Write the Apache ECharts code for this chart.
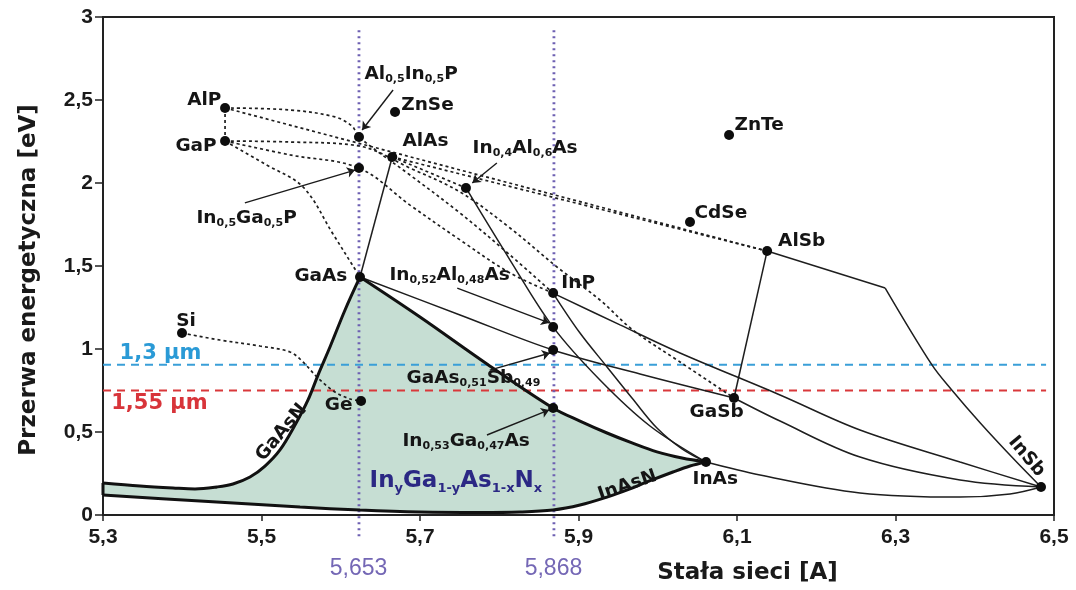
<!DOCTYPE html>
<html><head><meta charset="utf-8">
<script src="https://cdn.jsdelivr.net/npm/echarts@6/dist/echarts.min.js"></script>
<style>html,body{margin:0;padding:0;background:#fff}#c{width:1076px;height:590px}</style>
</head><body><div id="c"></div>
<script>
// ---------- tick labels ----------
const xTickLabels = ['5,3','5,5','5,7','5,9','6,1','6,3','6,5'];
const yTickLabels = ['0','0,5','1','1,5','2','2,5','3'];

// ---------- compounds (name, lattice constant, band gap) ----------
const compounds = [
  ['AlP',5.454,2.452],['GaP',5.454,2.253],['Al0.5In0.5P',5.623,2.277],['In0.5Ga0.5P',5.623,2.09],
  ['ZnSe',5.6685,2.428],['AlAs',5.665,2.157],['In0.4Al0.6As',5.758,1.97],['ZnTe',6.09,2.289],
  ['CdSe',6.0407,1.765],['AlSb',6.138,1.59],['GaAs',5.6243,1.434],['InP',5.868,1.337],
  ['In0.52Al0.48As',5.868,1.133],['GaAs0.51Sb0.49',5.868,0.994],['In0.53Ga0.47As',5.868,0.645],
  ['GaSb',6.0962,0.705],['InAs',6.0609,0.319],['InSb',6.4836,0.169],['Si',5.3997,1.096],['Ge',5.6256,0.687]
];

// ---------- InGaAsN region boundaries ----------
const curveGaAsN = [[5.6243,1.434],[5.6054,1.235],[5.5864,1.012],[5.5713,0.843],[5.5587,0.693],[5.5423,0.542],
  [5.5233,0.392],[5.5044,0.295],[5.4855,0.229],[5.464,0.187],[5.4438,0.169],[5.4161,0.157],[5.3883,0.163],[5.3467,0.175],[5.3,0.193]];
const curveLeftEdge = [[5.3,0.193],[5.3,0.12]];
const curveBottomInAsN = [[5.3,0.12],[5.4224,0.084],[5.5486,0.048],[5.6243,0.03],[5.7,0.018],[5.7757,0.015],[5.826,0.018],
  [5.8678,0.03],[5.9019,0.06],[5.936,0.108],[5.965,0.157],[5.9864,0.199],[6.0192,0.259],[6.0407,0.295],[6.0609,0.319]];
const curveInGaAs = [[5.6243,1.434],[5.7,1.193],[5.7845,0.91],[5.8678,0.645],[5.9019,0.566],[5.936,0.494],
  [5.9675,0.434],[5.999,0.38],[6.0306,0.343],[6.0609,0.319]];

// ---------- thin solid ternary lines ----------
const lineGaAsAlAs = [[5.6243,1.434],[5.665,2.157]];
const lineAlInAs = [[5.758,1.97],[5.8136,1.536],[5.8678,1.133],[5.9271,0.813],[5.9902,0.536],[6.0609,0.319]];
const lineInPInAs = [[5.8678,1.337],[5.9019,1.096],[5.936,0.892],[5.9675,0.705],[5.999,0.524],[6.0306,0.398],[6.0609,0.319]];
const lineInPInSb = [[5.8678,1.337],[5.9524,1.145],[6.0281,0.976],[6.1543,0.723],[6.2552,0.512],[6.3814,0.319],[6.4836,0.169]];
const lineGaAsGaSb = [[5.6243,1.434],[5.7505,1.205],[5.8678,0.994],[5.9776,0.849],[6.0962,0.705]];
const lineGaSbInSb = [[6.0962,0.705],[6.1543,0.566],[6.2552,0.349],[6.3814,0.211],[6.4836,0.169]];
const lineInAsInSb = [[6.0609,0.319],[6.129,0.241],[6.2552,0.133],[6.3814,0.108],[6.4445,0.127],[6.4836,0.169]];
const lineAlSbGaSb = [[6.138,1.59],[6.0962,0.705]];
const lineAlSbKnee = [[6.138,1.59],[6.287,1.367]];
const lineKneeInSb = [[6.287,1.367],[6.346,0.904],[6.371,0.753],[6.407,0.554],[6.448,0.343],[6.4836,0.169]];

// ---------- dotted lines ----------
const dotAlPGaP = [[5.454,2.452],[5.454,2.253]];
const dotAlPAlSb = [[5.454,2.452],[6.138,1.59]];
const dotAlAsAlSb = [[5.665,2.157],[6.138,1.59]];
const dotAlPInP = [[5.454,2.452],[5.536,2.44],[5.5927,2.398],[5.6142,2.343],[5.623,2.277],[5.6874,2.048],[5.7505,1.819],[5.8136,1.566],[5.8678,1.337]];
const dotGaPInP = [[5.454,2.253],[5.536,2.169],[5.623,2.09],[5.6874,1.867],[5.7505,1.657],[5.8136,1.458],[5.8678,1.337]];
const dotGaPGaSb = [[5.454,2.253],[5.536,2.247],[5.623,2.223],[5.6874,2.09],[5.7505,1.946],[5.8136,1.729],[5.8729,1.494],[5.9271,1.295],[5.9687,1.114],[6.0281,0.922],[6.0962,0.705]];
const dotGaPGaAs = [[5.454,2.253],[5.5044,2.114],[5.5524,1.976],[5.5902,1.693],[5.6155,1.5],[5.6243,1.434]];
const dotAlAsInAlAs = [[5.665,2.157],[5.758,1.97]];
const dotSiGe = [[5.3997,1.096],[5.4476,1.054],[5.4981,1.018],[5.5359,0.982],[5.5523,0.922],[5.5713,0.825],[5.5927,0.741],[5.6117,0.699],[5.6256,0.687]];

// ---------- reference levels ----------
const level13 = 0.905, level155 = 0.75;
const latticeGaAs = 5.623, latticeInP = 5.869;

// ---------- annotation arrows [from, to] ----------
const arrows = [
  [[5.479,1.88],[5.618,2.078]],
  [[5.666,2.56],[5.627,2.319]],
  [[5.797,2.12],[5.766,2.0]],
  [[5.747,1.367],[5.863,1.157]],
  [[5.788,0.873],[5.864,0.976]],
  [[5.7845,0.482],[5.863,0.633]]
];

// ---------- text labels [text, x, y, align, style, rotate] ----------
const labels = [
  ['AlP',5.450,2.494,'right','n',0],['GaP',5.444,2.217,'right','n',0],
  ['Al<0,5>In<0,5>P',5.6306,2.651,'left','n',0],['ZnSe',5.677,2.464,'left','n',0],
  ['AlAs',5.6785,2.247,'left','n',0],['In<0,4>Al<0,6>As',5.767,2.205,'left','n',0],
  ['ZnTe',6.0975,2.343,'left','n',0],['CdSe',6.047,1.813,'left','n',0],['AlSb',6.1525,1.645,'left','n',0],
  ['In<0,5>Ga<0,5>P',5.4186,1.783,'left','n',0],['GaAs',5.609,1.434,'right','n',0],
  ['In<0,52>Al<0,48>As',5.662,1.44,'left','n',0],['InP',5.879,1.392,'left','n',0],
  ['Si',5.393,1.163,'left','n',0],['Ge',5.6155,0.657,'right','n',0],
  ['GaAsN',5.526,0.494,'center','n',50],['GaAs<0,51>Sb<0,49>',5.6836,0.819,'left','n',0],
  ['In<0,53>Ga<0,47>As',5.6785,0.44,'left','n',0],['InAsN',5.9625,0.175,'center','n',19],
  ['InAs',6.0445,0.211,'left','n',0],['GaSb',6.0407,0.614,'left','n',0],['InSb',6.466,0.349,'center','n',-50],
  ['1,3 µm',5.3215,0.97,'left','blue',0],['1,55 µm',5.311,0.669,'left','red',0],
  ['In<y>Ga<1-y>As<1-x>N<x>',5.637,0.199,'left','big',0],
  ['5,653',5.623,-0.325,'center','pur',0],['5,868',5.869,-0.325,'center','pur',0]
];

// ================= build chart =================
const FONT = 'DejaVu Sans';
const richStyles = {
  nb:{fontFamily:FONT,fontWeight:'bold',fontSize:18.5,lineHeight:21,color:'#151515'},
  ns:{fontFamily:FONT,fontWeight:'bold',fontSize:11,lineHeight:9,verticalAlign:'bottom',color:'#151515'},
  bigb:{fontFamily:FONT,fontWeight:'bold',fontSize:23,lineHeight:28,color:'#2b2884'},
  bigs:{fontFamily:FONT,fontWeight:'bold',fontSize:13,lineHeight:12,verticalAlign:'bottom',color:'#2b2884'},
  blueb:{fontFamily:FONT,fontWeight:'bold',fontSize:21,lineHeight:24,color:'#2a9ad6'},
  redb:{fontFamily:FONT,fontWeight:'bold',fontSize:21,lineHeight:24,color:'#d8343a'},
  purb:{fontFamily:'Liberation Sans',fontSize:23,lineHeight:26,color:'#7467b5'}
};
function toRich(str, st){
  return str.split(/(<[^>]*>)/).filter(s=>s.length).map(t=> t[0]==='<' ? '{'+st+'s|'+t.slice(1,-1)+'}' : '{'+st+'b|'+t+'}').join('');
}
function lineSeries(data, style, smooth, z){
  return {type:'line', data:data, showSymbol:false, symbol:'none', smooth:smooth, lineStyle:style, z:z, silent:true, animation:false};
}
const thick = {color:'#111', width:3};
const thin = {color:'#1e1e1e', width:1.5};
const dotted = {color:'#1e1e1e', width:1.7, type:[3,3]};

const regionPts = [].concat(curveGaAsN, curveLeftEdge.slice(1), curveBottomInAsN.slice(1), curveInGaAs.slice().reverse().slice(1));

const series = [];
series.push({type:'custom', silent:true, z:1, data:[[5.3,0]],
  renderItem:function(params, api){
    return {type:'polygon', shape:{points:regionPts.map(p=>api.coord(p))}, style:{fill:'#c6ded3'}};
  }});
series.push(lineSeries([[5.3,level13],[6.49,level13]], {color:'#3a9fd8',width:2,type:[8,6]}, false, 2));
series.push(lineSeries([[5.3,level155],[6.49,level155]], {color:'#d9383b',width:2,type:[8,6]}, false, 2));
[latticeGaAs, latticeInP].forEach(v=>{
  const s = lineSeries([[v,2.92],[v,-0.15]], {color:'#6e60b2',width:2.8,type:[2,4]}, false, 3);
  s.clip = false; series.push(s);
});
[curveGaAsN, curveLeftEdge, curveBottomInAsN, curveInGaAs].forEach(d=>series.push(lineSeries(d, thick, d.length>2?0.35:false, 5)));
[lineGaAsAlAs, lineAlInAs, lineInPInAs, lineInPInSb, lineGaAsGaSb, lineGaSbInSb, lineInAsInSb, lineAlSbGaSb, lineAlSbKnee, lineKneeInSb]
  .forEach(d=>series.push(lineSeries(d, thin, d.length>2?0.35:false, 4)));
[dotAlPGaP, dotAlPAlSb, dotAlAsAlSb, dotAlPInP, dotGaPInP, dotGaPGaSb, dotGaPGaAs, dotAlAsInAlAs, dotSiGe]
  .forEach(d=>series.push(lineSeries(d, dotted, d.length>2?0.35:false, 4)));
series.push({type:'lines', coordinateSystem:'cartesian2d', silent:true, z:6, symbol:['none','arrow'], symbolSize:[0,8],
  lineStyle:{color:'#1a1a1a', width:1.4, opacity:1}, data:arrows.map(a=>({coords:a}))});
series.push({type:'scatter', silent:true, z:7, symbolSize:10, itemStyle:{color:'#0d0d0d', opacity:1}, data:compounds.map(c=>[c[1],c[2]])});
series.push({type:'scatter', silent:true, z:8, symbolSize:1, clip:false, itemStyle:{color:'rgba(0,0,0,0)', opacity:1},
  data:labels.map(l=>({value:[l[1],l[2]], label:{show:true, opacity:1, position:[0,0], align:l[3], verticalAlign:'middle', rotate:l[5],
    formatter:toRich(l[0], l[4]), rich:richStyles}}))});

const chart = echarts.init(document.getElementById('c'), null, {renderer:'canvas'});
chart.setOption({
  animation:false,
  grid:{left:103, right:22, top:17, bottom:75, show:true, borderColor:'#222', borderWidth:2, backgroundColor:'transparent'},
  xAxis:{type:'value', min:5.3, max:6.5, interval:0.2,
    axisLine:{lineStyle:{color:'#222', width:2}}, axisTick:{length:6, lineStyle:{color:'#222', width:1.5}},
    splitLine:{show:false},
    axisLabel:{formatter:(v,i)=>xTickLabels[i], fontFamily:'Liberation Sans', fontWeight:'bold', fontSize:21, color:'#1a1a1a', margin:12},
    name:'Stała sieci [A]', nameLocation:'middle', nameGap:47,
    nameTextStyle:{fontFamily:FONT, fontWeight:'bold', fontSize:23, color:'#1a1a1a', padding:[0,0,0,338]}},
  yAxis:{type:'value', min:0, max:3, interval:0.5,
    axisLine:{lineStyle:{color:'#222', width:2}}, axisTick:{length:8, lineStyle:{color:'#222', width:1.5}},
    splitLine:{show:false},
    axisLabel:{formatter:(v,i)=>yTickLabels[i], fontFamily:'Liberation Sans', fontWeight:'bold', fontSize:21, color:'#1a1a1a', margin:10},
    name:'Przerwa energetyczna [eV]', nameLocation:'middle', nameRotate:90, nameGap:62,
    nameTextStyle:{fontFamily:FONT, fontWeight:'bold', fontSize:23, color:'#1a1a1a', padding:[0,28,0,0]}},
  series:series
});
</script></body></html>
